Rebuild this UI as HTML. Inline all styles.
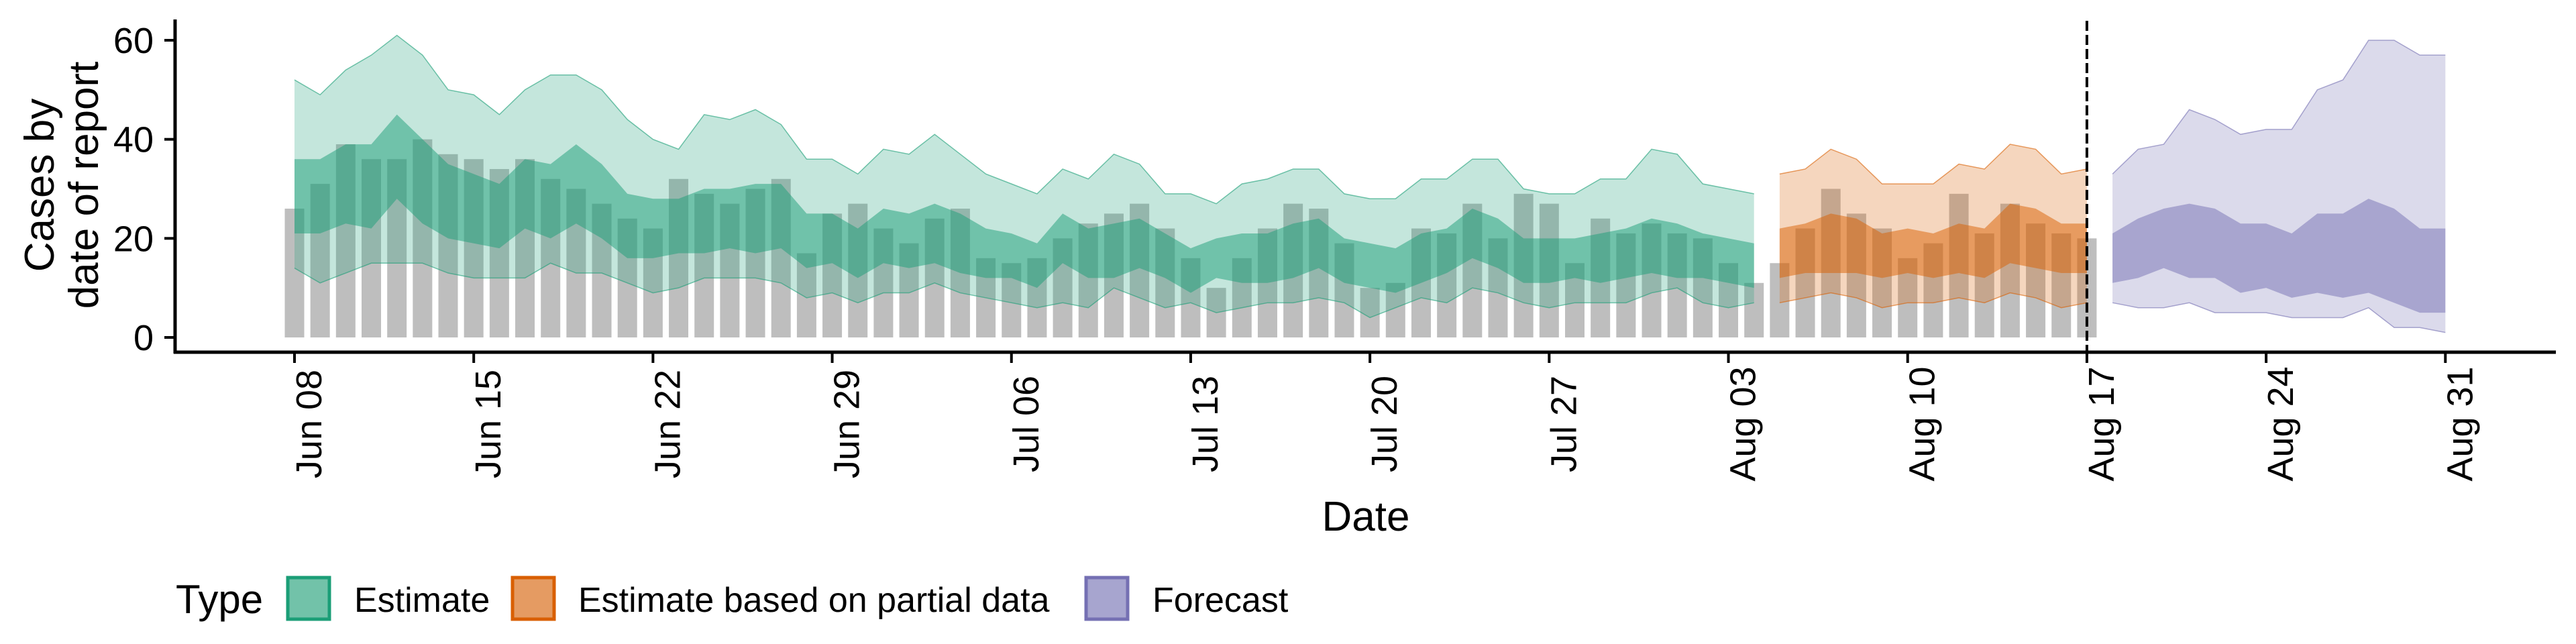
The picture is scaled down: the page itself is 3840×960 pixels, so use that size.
<!DOCTYPE html>
<html><head><meta charset="utf-8"><style>
html,body{margin:0;padding:0;background:#fff;}
svg{display:block;font-family:"Liberation Sans",Arial,sans-serif;}
</style></head><body>
<svg id="chart" width="3840" height="960" viewBox="0 0 3840 960" xmlns="http://www.w3.org/2000/svg">
<g id="bands"></g>
<g id="axes"></g>
<text font-size="62" text-anchor="middle" transform="translate(80,276) rotate(-90)">Cases by</text>
<text font-size="62" text-anchor="middle" transform="translate(146,276) rotate(-90)">date of report</text>
<text font-size="62" text-anchor="middle" x="2036" y="791">Date</text>
<g>
<text font-size="60" x="262" y="914">Type</text>
<rect x="429" y="861" width="62" height="62" fill="#72c2a9" stroke="#1b9e77" stroke-width="5"/>
<text font-size="52" x="528" y="912">Estimate</text>
<rect x="764" y="861" width="62" height="62" fill="#e59b62" stroke="#d95f02" stroke-width="5"/>
<text font-size="52" x="862" y="912">Estimate based on partial data</text>
<rect x="1619" y="861" width="62" height="62" fill="#a7a5cf" stroke="#7570b3" stroke-width="5"/>
<text font-size="52" x="1718" y="912">Forecast</text>
</g>
</svg>
<script>
const barValues=[26,31,39,36,36,40,37,36,34,36,32,30,27,24,22,
32,29,27,30,32,17,25,27,22,19,24,26,16,15,16,20,23,25,27,22,16,10,16,22,27,26,
19,10,11,22,21,27,20,29,27,15,24,21,23,21,20,15,11,15,22,30,25,22,16,19,29,21,27,23,21,20];
const estStart=0;
const estOuterUpper=[52,49,54,57,61,57,50,49,45,50,53,53,50,44,40,38,45,44,46,43,36,36,33,38,37,41,37,33,31,29,34,32,37,35,29,29,27,31,32,34,34,29,28,28,32,32,36,36,30,29,29,32,32,38,37,31,30,29];
const estInnerUpper=[36,36,39,39,45,40,35,33,31,36,35,39,35,29,28,28,30,30,31,31,25,25,22,26,25,27,25,22,21,19,25,22,23,24,21,18,20,21,21,23,24,20,19,18,21,22,26,24,20,20,20,21,22,24,23,21,20,19];
const estInnerLower=[21,21,23,22,28,23,20,19,18,22,20,23,20,16,16,17,17,18,17,18,14,15,12,15,14,15,13,12,12,10,15,12,12,14,12,9,12,11,11,12,14,11,10,9,11,13,16,14,11,11,12,11,12,13,12,12,11,10];
const estOuterLower=[14,11,13,15,15,15,13,12,12,12,15,13,13,11,9,10,12,12,12,11,8,9,7,9,9,11,9,8,7,6,7,6,10,8,6,7,5,6,7,7,8,7,4,6,8,7,10,9,7,6,7,7,7,9,10,7,6,7];
const partStart=58;
const partOuterUpper=[33,34,38,36,31,31,31,35,34,39,38,33,34];
const partInnerUpper=[22,23,25,24,21,22,21,23,22,27,26,23,23];
const partInnerLower=[12,13,13,13,12,13,12,13,12,15,14,13,13];
const partOuterLower=[7,8,9,8,6,7,7,8,7,9,8,6,7];
const fcStart=71;
const fcOuterUpper=[33,38,39,46,44,41,42,42,50,52,60,60,57,57];
const fcInnerUpper=[21,24,26,27,26,23,23,21,25,25,28,26,22,22];
const fcInnerLower=[11,12,14,12,12,9,10,8,9,8,9,7,5,5];
const fcOuterLower=[7,6,6,7,5,5,5,4,4,4,6,2,2,1];
const yTicks=[0,20,40,60];
const xTickDays=[0,7,14,21,28,35,42,49,56,63,70,77,84];
const xTickLabels=["Jun 08","Jun 15","Jun 22","Jun 29","Jul 06","Jul 13","Jul 20","Jul 27","Aug 03","Aug 10","Aug 17","Aug 24","Aug 31"];
const forecastDay=70;

const NS="http://www.w3.org/2000/svg";
function xs(d){return 439+d*38.17;}
function ys(v){return 503-v*7.383;}
function mk(tag,attrs,parent){const e=document.createElementNS(NS,tag);for(const k in attrs)e.setAttribute(k,attrs[k]);parent.appendChild(e);return e;}
const bands=document.getElementById('bands');
const axes=document.getElementById('axes');

barValues.forEach((v,i)=>{
  const r=mk('rect',{x:xs(i)-14.5,y:ys(v),width:29,height:ys(0)-ys(v),fill:'#bebebe'},bands);
  
  
});

function band(start,up,lo,color,op,edge,name){
  let pts=up.map((v,k)=>xs(start+k)+','+ys(v));
  for(let k=lo.length-1;k>=0;k--)pts.push(xs(start+k)+','+ys(lo[k]));
  const p=mk('polygon',{points:pts.join(' '),fill:color,'fill-opacity':op},bands);
  
  
  if(edge){
    [up,lo].forEach(arr=>{
      const l=mk('polyline',{points:arr.map((v,k)=>xs(start+k)+','+ys(v)).join(' '),fill:'none',stroke:color,'stroke-width':1.5,'stroke-opacity':0.6},bands);
      
      
    });
  }
}
band(estStart,estOuterUpper,estOuterLower,'#1b9e77',0.26,true,'estimate-outer-band');
band(estStart,estInnerUpper,estInnerLower,'#1b9e77',0.5,false,'estimate-inner-band');
band(partStart,partOuterUpper,partOuterLower,'#d95f02',0.26,true,'partial-outer-band');
band(partStart,partInnerUpper,partInnerLower,'#d95f02',0.5,false,'partial-inner-band');
band(fcStart,fcOuterUpper,fcOuterLower,'#7570b3',0.26,true,'forecast-outer-band');
band(fcStart,fcInnerUpper,fcInnerLower,'#7570b3',0.5,false,'forecast-inner-band');

const dl=mk('line',{x1:xs(forecastDay),x2:xs(forecastDay),y1:31,y2:527,stroke:'#000','stroke-width':4,'stroke-dasharray':'15 6'},axes);



const ya=mk('line',{x1:261,x2:261,y1:29,y2:527,stroke:'#000','stroke-width':5},axes);


const xa=mk('line',{x1:259,x2:3810,y1:525,y2:525,stroke:'#000','stroke-width':5},axes);



yTicks.forEach(v=>{
  const t=mk('line',{x1:245,x2:261,y1:ys(v),y2:ys(v),stroke:'#000','stroke-width':4},axes);
  
  
  const tx=mk('text',{x:229,y:ys(v)+19,'font-size':54,'text-anchor':'end'},axes);
  tx.textContent=v;
  
  
});
xTickDays.forEach((d,k)=>{
  const t=mk('line',{x1:xs(d),x2:xs(d),y1:525,y2:541,stroke:'#000','stroke-width':4},axes);
  
  
  const tx=mk('text',{'font-size':54,'text-anchor':'middle',transform:'translate('+(xs(d)+40)+',632) rotate(-90)'},axes);
  tx.textContent=xTickLabels[k];
  
  
});
</script>
</body></html>
